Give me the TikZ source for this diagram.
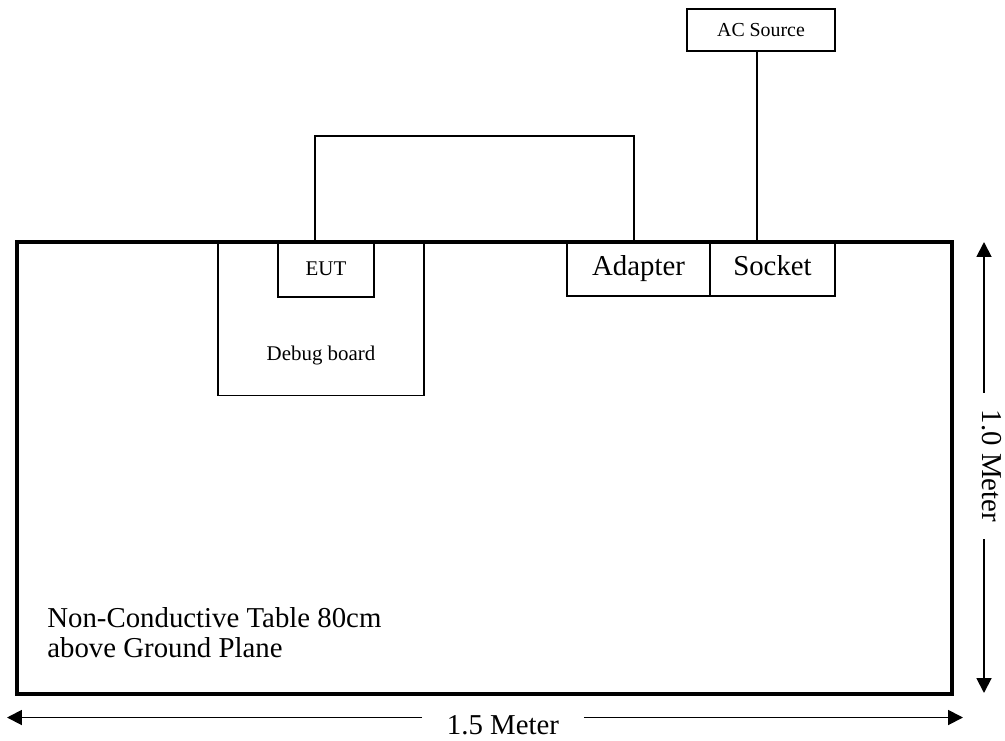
\documentclass[tikz,border=0pt]{standalone}
\usepackage{fontspec}
\setmainfont{Liberation Serif}
\usetikzlibrary{arrows.meta}

\tikzset{
  caja/.style={draw, line width=1.1pt, inner sep=0pt, outer sep=0pt},
  letra/.style={font=\fontsize{16.4}{17}\selectfont},
  letrachica/.style={font=\fontsize{11.9}{13}\selectfont},
  renglon/.style={text height=11.5pt, text depth=3.3pt},
  cable/.style={line width=1.1pt},
  cota/.style={line width=1.1pt, -{Triangle[length=8.5pt,width=8.5pt]}},
}

\begin{document}
\begin{tikzpicture}[x=0.02cm, y=-0.02cm]
  \useasboundingbox (0,0) rectangle (1005,741);

  % Mesa no conductora
  \node[caja, line width=2.3pt, minimum width=18.72cm, minimum height=9.05cm] (mesa) at (484.5,467.75) {};
  \node[letra, align=left, anchor=north west, inner sep=0pt] (rotulomesa) at (47,607)
    {Non-Conductive Table 80cm\\above Ground Plane};

  % Placa y equipo bajo prueba
  \node[caja, minimum width=4.12cm, minimum height=3.08cm] (placa) at (321,318.5) {};
  \node[letrachica, anchor=base] (rotuloplaca) at (321,360) {Debug board};
  \node[caja, letrachica, minimum width=1.92cm, minimum height=1.11cm] (eut) at (326,269.25) {EUT};

  % Adaptador, toma y fuente
  \node[caja, letra, renglon, minimum width=2.86cm, minimum height=1.09cm] (adaptador) at (638.5,268.75) {Adapter};
  \node[caja, letra, renglon, minimum width=2.5cm, minimum height=1.09cm] (toma) at (772.5,268.75) {Socket};
  \node[caja, line width=0.75pt, font=\fontsize{11.3}{13}\selectfont, minimum width=2.96cm, minimum height=0.84cm] (fuente) at (761,30) {AC Source};

  % Cables
  \draw[cable] ([xshift=-0.22cm]eut.north) -- ++(0,-105.5) -| ([xshift=-0.09cm]adaptador.north);
  \draw[cable] ([xshift=-0.08cm]fuente.south) -- ([xshift=-0.31cm]toma.north);

  % Cotas
  \coordinate (izq) at (7,717.5);
  \coordinate (der) at (963,717.5);
  \coordinate (arriba) at (984,242);
  \coordinate (abajo) at (984,693);
  \node[letra, inner sep=0pt, minimum width=3.22cm] (ancho) at (503,725) {1.5 Meter};
  \node[letra, inner sep=0pt, minimum width=2.92cm, rotate=-90] (alto) at (992,466) {1.0 Meter};
  \draw[cota] (ancho.west |- izq) -- (izq);
  \draw[cota] (ancho.east |- der) -- (der);
  \draw[cota] (arriba |- alto.west) -- (arriba);
  \draw[cota] (abajo |- alto.east) -- (abajo);
\end{tikzpicture}
\end{document}
